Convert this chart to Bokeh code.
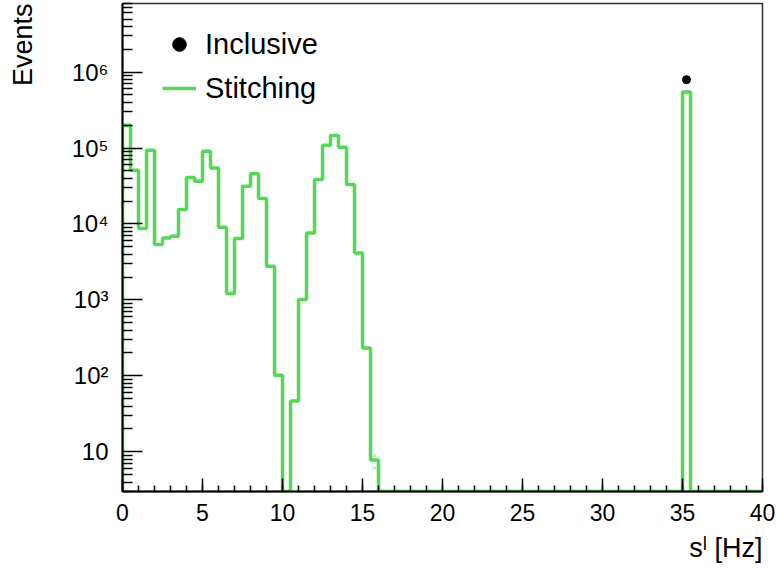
import numpy as np
from bokeh.plotting import figure
from bokeh.models import (Range1d, Legend, LegendItem, SingleIntervalTicker, FixedTicker,
                          CustomJSTickFormatter, Title)
from bokeh.embed import file_html
from bokeh.resources import INLINE

# ---------------- data ----------------
bin_low = 0.0
bin_width = 0.5
stitching = [
    1.99e5, 5.09e4, 8.7e3, 9.33e4, 5.36e3, 6.55e3, 6.89e3, 1.55e4, 4.08e4, 3.65e4,
    9.05e4, 5.46e4, 9.06e3, 1.21e3, 6.43e3, 3.13e4, 4.6e4, 2.16e4, 2.77e3, 102,
    0, 46.5, 1.01e3, 7.62e3, 3.84e4, 1.09e5, 1.46e5, 1.02e5, 3.3e4, 4.15e3,
    233, 7.8, 0, 0, 0, 0, 0, 0, 0, 0,
    0, 0, 0, 0, 0, 0, 0, 0, 0, 0,
    0, 0, 0, 0, 0, 0, 0, 0, 0, 0,
    0, 0, 0, 0, 0, 0, 0, 0, 0, 0,
    5.45e5, 0, 0, 0, 0, 0, 0, 0, 0, 0,
]
inclusive_x = [35.25]
inclusive_y = [7.95e5]
stitch_mark_x = [15.75, 15.75]
stitch_mark_y = [8.8, 6.1]

y_tick_values = [10.0, 100.0, 1000.0, 10000.0, 100000.0, 1000000.0]

X_MIN, X_MAX = 0, 40
Y_MIN, Y_MAX = 3, 8e6

FONT = "Liberation Sans"
GREEN = "#57d657"
SHIFT = 27  # extra left border hidden off-page so the y title sits at the far left

# ---------------- figure ----------------
p = figure(width=776 + SHIFT, height=569, x_range=Range1d(X_MIN, X_MAX),
           y_range=Range1d(Y_MIN, Y_MAX), y_axis_type="log",
           output_backend="svg", toolbar_location=None,
           min_border_left=122 + SHIFT, min_border_right=14,
           min_border_top=3, min_border_bottom=78,
           styles={"margin-left": f"-{SHIFT}px"})
p.xgrid.visible = False
p.ygrid.visible = False
p.outline_line_color = "#333333"
p.outline_line_width = 1.5
p.background_fill_color = "white"
p.border_fill_color = "white"

# histogram outline built from bin contents
n = len(stitching)
edges = bin_low + bin_width * np.arange(n + 1)
vals = np.clip(np.array(stitching, dtype=float), Y_MIN, None)
xs = np.repeat(edges, 2)
ys = np.concatenate([[Y_MIN], np.repeat(vals, 2), [Y_MIN]])
hist_r = p.line(xs, ys, line_color=GREEN, line_width=3.5)

p.scatter(stitch_mark_x, stitch_mark_y, marker="x", size=6,
          line_color=GREEN, line_width=1, alpha=0.7)

dot_r = p.scatter(inclusive_x, inclusive_y, marker="circle", size=8,
                  fill_color="black", line_color="black")

# ---------------- axes ----------------
xa = p.xaxis[0]
xa.ticker = SingleIntervalTicker(interval=5, num_minor_ticks=5)
xa.major_tick_in = 13
xa.major_tick_out = 0
xa.minor_tick_in = 6
xa.minor_tick_out = 0
xa.major_label_standoff = 12
xa.major_label_text_font = FONT
xa.major_label_text_font_size = "23px"
xa.major_label_text_color = "black"
xa.axis_line_width = 2
xa.major_tick_line_width = 1.5
xa.minor_tick_line_width = 1.5

minor = [m * 10 ** k for k in range(0, 8) for m in range(2, 10)]
ya = p.yaxis[0]
ya.ticker = FixedTicker(ticks=y_tick_values, minor_ticks=minor)
ya.formatter = CustomJSTickFormatter(code="""
    const sup = ['\u2070','\u00b9','\u00b2','\u00b3','\u2074','\u2075','\u2076','\u2077','\u2078','\u2079'];
    const e = Math.round(Math.log10(tick));
    return e == 1 ? '10' : '10' + sup[e];
""")
ya.major_tick_in = 20
ya.major_tick_out = 0
ya.minor_tick_in = 10
ya.minor_tick_out = 0
ya.major_label_standoff = 14
ya.major_label_text_font = FONT
ya.major_label_text_font_size = "24px"
ya.major_label_text_color = "black"
ya.axis_line_width = 2
ya.major_tick_line_width = 1.5
ya.minor_tick_line_width = 1.5

# axis titles as side titles (right / top aligned like the reference)
x_title = Title(text="s\u02e1 [Hz]", align="right", text_font=FONT,
                text_font_size="27px", text_font_style="normal",
                text_color="black", standoff=14)
p.add_layout(x_title, "below")
y_title = Title(text="Events", align="right", text_font=FONT,
                text_font_size="27px", text_font_style="normal",
                text_color="black", standoff=62)
p.add_layout(y_title, "left")

# ---------------- legend ----------------
legend = Legend(items=[LegendItem(label="Inclusive", renderers=[dot_r]),
                       LegendItem(label="Stitching", renderers=[hist_r])],
                location=(40, 381), orientation="vertical",
                glyph_width=34, glyph_height=44, label_height=44,
                label_standoff=9, spacing=0, padding=0, margin=0,
                border_line_alpha=0, background_fill_alpha=0,
                label_text_font=FONT, label_text_font_size="29px",
                label_text_color="black")
p.add_layout(legend)

open("out.html", "w").write(file_html(p, INLINE))
